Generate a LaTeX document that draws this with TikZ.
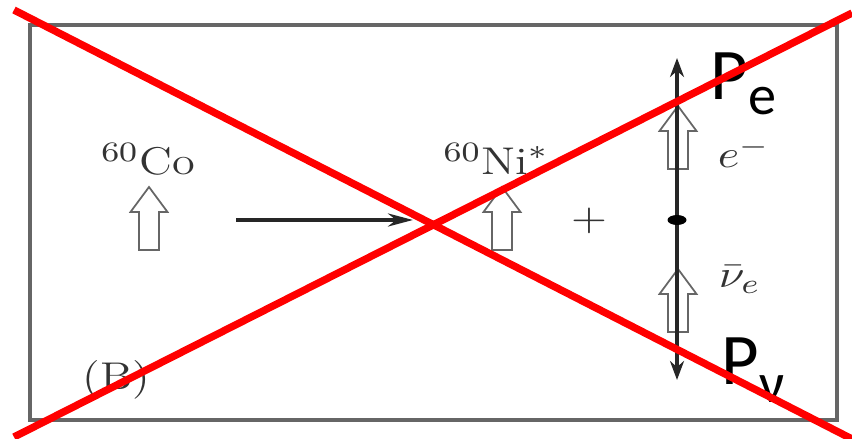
\documentclass[tikz,border=0pt]{standalone}
\usepackage{amsmath,amssymb}
\usepackage{fontspec}
\newfontfamily\slidefont{Carlito}
\usetikzlibrary{arrows.meta}

\begin{document}
\begin{tikzpicture}[>={Stealth[length=1.9mm,width=1.4mm]},
    spinline/.style={draw=black!60,line width=0.5pt},
    texlabel/.style={text=black!80,inner sep=0pt,xscale=1.2,font=\fontsize{11}{13}\selectfont},
    plabel/.style={font=\slidefont\fontsize{20.7}{22}\selectfont,inner sep=0pt}]
            \useasboundingbox (0,0) rectangle (8.52,4.39);
            \draw [black!60,line width=0.9pt] (0.30,0.19) rectangle (8.37,4.14);
            % decay: Co -> Ni* + e- + antineutrino
            \node [texlabel,anchor=base] (co) at (1.48,2.64) {$^{60}\mathrm{Co}$};
            \node [texlabel,anchor=base] (ni) at (4.96,2.64) {$^{60}\mathrm{Ni}^{*}$};
            \node [texlabel] (plus) at (5.89,2.18) {$+$};
            \coordinate (decay-start) at (2.36,2.19);
            \coordinate (decay-end) at (4.13,2.19);
            \draw [->,>={Stealth[length=2.5mm,width=1.3mm]},black!85,line width=1.1pt] (decay-start) -- (decay-end);
            % spin arrows
            \foreach \x/\y in {1.49/1.89,5.02/1.89,6.78/2.70,6.78/1.07}
                \draw [spinline] (\x-0.10,\y) -- (\x-0.10,\y+0.38) -- (\x-0.185,\y+0.38)
                    -- (\x,\y+0.63) -- (\x+0.185,\y+0.38) -- (\x+0.10,\y+0.38)
                    -- (\x+0.10,\y) -- cycle;
            % momenta
            \coordinate (vertex) at (6.77,2.19);
            \coordinate (pe-tip) at (6.77,3.81);
            \coordinate (pnu-tip) at (6.77,0.59);
            \draw [->,black!85,line width=0.9pt] (vertex) -- (pe-tip);
            \draw [->,black!85,line width=0.9pt] (vertex) -- (pnu-tip);
            \fill [black] (vertex) ellipse [x radius=0.095,y radius=0.05];
            \node [texlabel,anchor=base west] (elec) at (7.17,2.71) {$e^{-}$};
            \node [texlabel,anchor=base west] (nubar) at (7.18,1.51) {$\bar{\nu}_{e}$};
            \node [texlabel,anchor=base west] (case) at (0.82,0.49) {(B)};
            \node [plabel,anchor=base west] (pe) at (7.10,3.39) {P\raisebox{-0.15cm}{\fontsize{16}{16}\selectfont e}};
            \node [plabel,anchor=base west] (pnu) at (7.21,0.54) {P\raisebox{-0.17cm}{\fontsize{16}{16}\selectfont ν}};
            % crossed out
            \draw [red,line width=2.1pt] (0.14,4.29) -- (8.52,0.00);
            \draw [red,line width=2.1pt] (0.14,0.02) -- (8.52,4.26);
        \end{tikzpicture}
\end{document}
